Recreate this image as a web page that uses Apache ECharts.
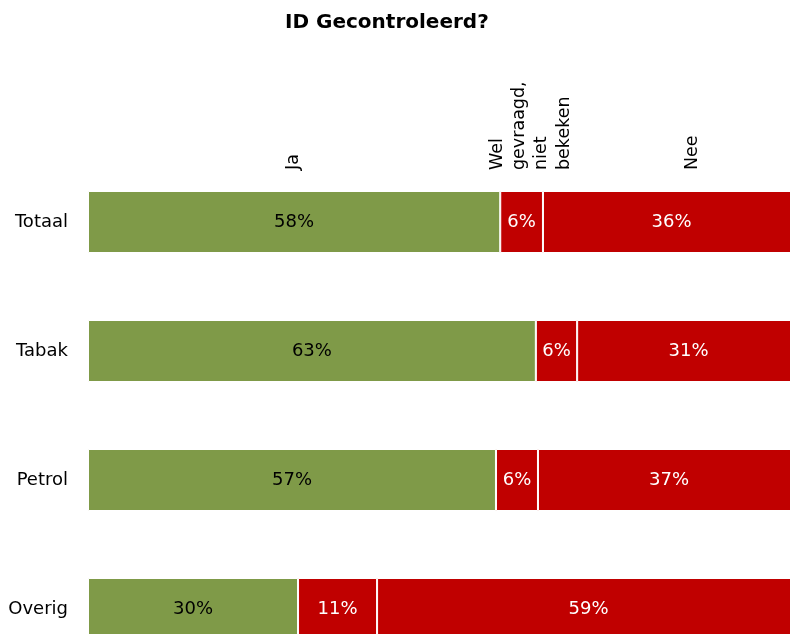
<!DOCTYPE html>
<html>
<head>
<meta charset="utf-8">
<script src="https://cdn.jsdelivr.net/npm/echarts@6/dist/echarts.min.js"></script>
<style>html,body{margin:0;padding:0;background:#fff;overflow:hidden;width:790px;height:634px}#c{width:820px;height:690px}</style>
</head>
<body>
<div id="c"></div>
<script>
const categories = ['Totaal', 'Tabak', 'Petrol', 'Overig'];
const headers = ['Ja', 'Wel\ngevraagd,\nniet\nbekeken', 'Nee'];
const ja = [57.9, 62.9, 57.3, 29.5];
const wel = [6.0, 5.8, 5.9, 11.1];
const nee = [36.1, 31.3, 36.8, 59.4];

const FONT = 'DejaVu Sans, Verdana, sans-serif';
const colors = ['#7f9a48', '#c00000', '#c00000'];
const labelColors = ['#000000', '#ffffff', '#ffffff'];
const values = [ja, wel, nee];

const chart = echarts.init(document.getElementById('c'), null, {renderer: 'canvas'});
const option = {
  animation: false,
  title: {
    text: 'ID Gecontroleerd?',
    left: 280, top: 8,
    textStyle: {fontFamily: FONT, fontSize: 20, fontWeight: 'bold', color: '#000'}
  },
  grid: {left: 88, width: 712, top: 157.5, height: 516},
  xAxis: {type: 'value', min: 0, max: 100, show: false},
  yAxis: {
    type: 'category', data: categories, inverse: true,
    axisLine: {show: false}, axisTick: {show: false},
    axisLabel: {fontFamily: FONT, fontSize: 18, color: '#000', margin: 20}
  },
  series: values.map((v, i) => ({
    type: 'bar', stack: 'all', name: headers[i], data: v,
    barWidth: 62,
    itemStyle: {color: colors[i], borderColor: '#fff', borderWidth: 1},
    label: {show: true, position: 'inside', formatter: p => Math.round(p.value) + '%',
      fontFamily: FONT, fontSize: 18, color: labelColors[i]}
  }))
};
chart.setOption(option);

// Column headers above the first bar, rotated
const offsets = [-1, 9, 21];
let cum = 0;
const texts = headers.map((h, i) => {
  const start = cum; cum += values[i][0];
  const mid = (start + cum) / 2;
  const p = chart.convertToPixel({gridIndex: 0}, [mid, categories[0]]);
  return {
    type: 'text', x: p[0] + offsets[i], y: 170, rotation: Math.PI / 2,
    style: {text: h, fontFamily: FONT, fontSize: 17.5, fill: '#000',
      align: 'left', verticalAlign: 'middle', lineHeight: 22.3}
  };
});
chart.setOption({graphic: texts});
</script>
</body>
</html>
